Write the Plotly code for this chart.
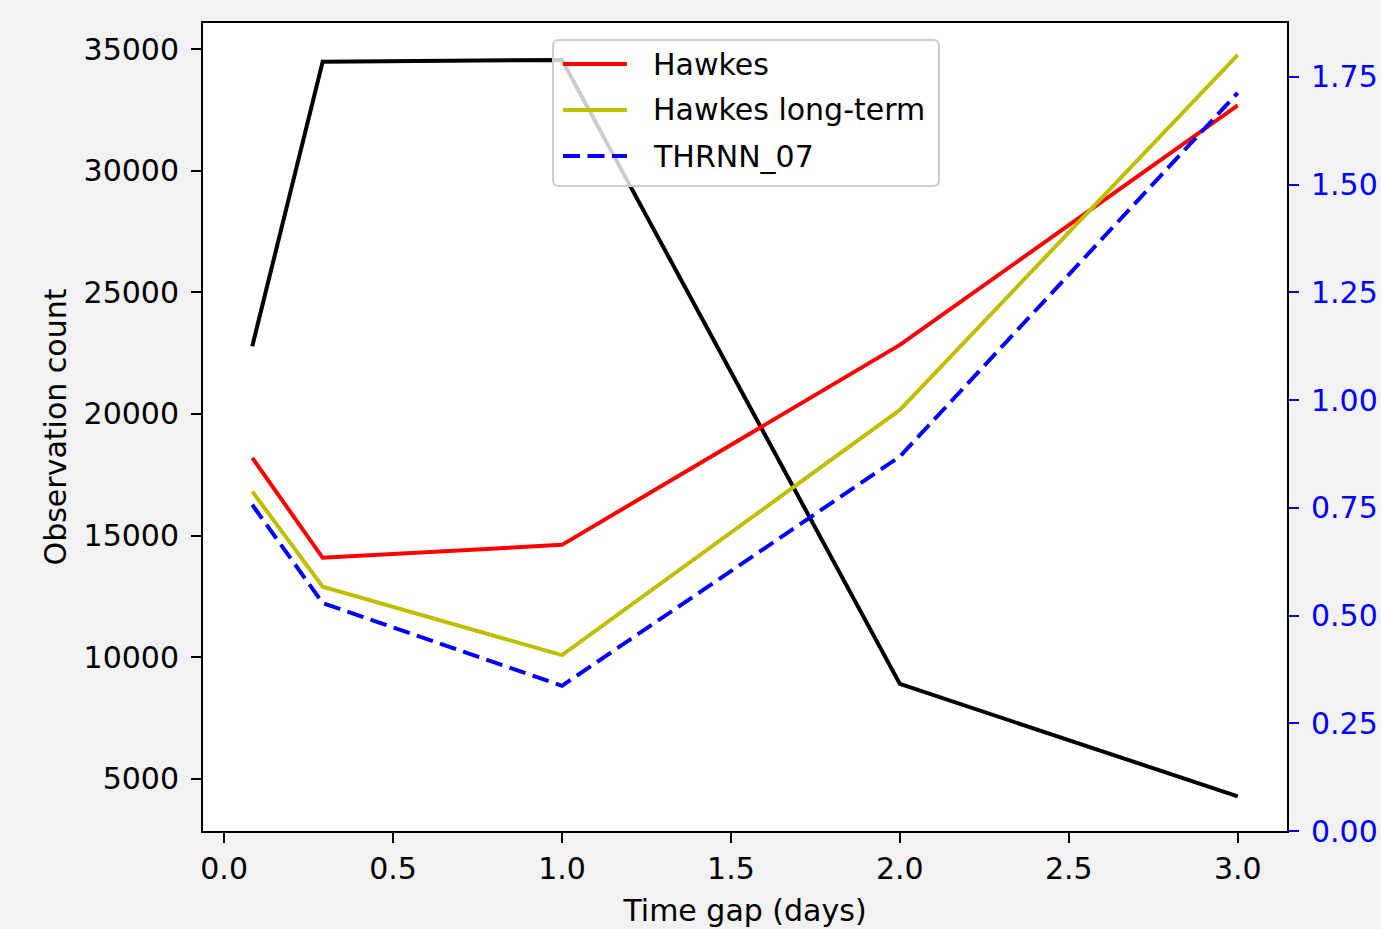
import plotly.graph_objects as go

# ---------------- data ----------------
time_gap_days = [1/12, 7/24, 1.0, 2.0, 3.0]
observation_count = [22790, 34490, 34560, 8900, 4272]

series_names = ["Hawkes", "Hawkes long-term", "THRNN_07"]
hawkes = [0.866, 0.634, 0.664, 1.128, 1.684]
hawkes_long_term = [0.788, 0.567, 0.408, 0.977, 1.801]
thrnn_07 = [0.757, 0.529, 0.337, 0.869, 1.713]
series_values = [hawkes, hawkes_long_term, thrnn_07]

x_ticks = [0.0, 0.5, 1.0, 1.5, 2.0, 2.5, 3.0]
y_ticks = [5000, 10000, 15000, 20000, 25000, 30000, 35000]
y2_ticks = [0.00, 0.25, 0.50, 0.75, 1.00, 1.25, 1.50, 1.75]

# ---------------- styles ----------------
series_colors = ["#ff0000", "#bfbf00", "#0000ff"]
series_dash = ["solid", "solid", "17px,7.5px"]
LW = 4
FONT = "DejaVu Sans"
FS = 30
BG = "#f2f2f2"

W, H = 1381, 929
L, R, T, B = 203, 94, 23, 98

fig = go.Figure()

fig.add_trace(go.Scatter(
    x=time_gap_days, y=observation_count, mode="lines",
    line=dict(color="black", width=LW), showlegend=False, yaxis="y"))

for name, vals, col, dash in zip(series_names, series_values, series_colors, series_dash):
    fig.add_trace(go.Scatter(
        x=time_gap_days, y=vals, mode="lines", name=name,
        line=dict(color=col, width=LW, dash=dash), showlegend=False, yaxis="y2"))

axis_common = dict(
    showgrid=False, zeroline=False, ticks="outside", ticklen=10, tickwidth=2,
    showline=True, linewidth=2, linecolor="black", automargin=False,
    tickfont=dict(family=FONT, size=FS, color="black"),
)

fig.update_layout(
    width=W, height=H,
    margin=dict(l=L, r=R, t=T, b=B, pad=0, autoexpand=False),
    paper_bgcolor=BG, plot_bgcolor="white",
    font=dict(family=FONT, size=FS, color="black"),
    showlegend=False,
    xaxis=dict(
        **axis_common, mirror=True, range=[-0.0625, 3.1458],
        tickvals=x_ticks, tickformat=".1f", tickcolor="black",
        ticklabelstandoff=0,
        title=dict(text="Time gap (days)", font=dict(family=FONT, size=FS), standoff=15),
    ),
    yaxis=dict(
        **axis_common, range=[2850, 36080], tickvals=y_ticks,
        tickformat="d", tickcolor="black", ticklabelstandoff=6,
        title=dict(text="Observation count", font=dict(family=FONT, size=FS), standoff=8),
    ),
    yaxis2=dict(
        showgrid=False, zeroline=False, ticks="outside", ticklen=10, tickwidth=2,
        tickcolor="#0000ff", showline=True, linewidth=2, linecolor="black",
        automargin=False,
        overlaying="y", side="right", anchor="x", range=[0, 1.875],
        tickvals=y2_ticks, tickformat=".2f", ticklabelstandoff=6,
        tickfont=dict(family=FONT, size=FS, color="#0000ff"),
    ),
)

# ---------------- manual matplotlib-style legend ----------------
pw, ph = W - L - R, H - T - B
def px(xp):
    return (xp - L) / pw
def py(yp):
    return (H - B - yp) / ph

x0, x1, y0, y1 = px(553), px(939), py(186), py(40)
rx, ry = 6 / pw, 6 / ph
path = (f"M {x0+rx},{y0} L {x1-rx},{y0} Q {x1},{y0} {x1},{y0+ry} "
        f"L {x1},{y1-ry} Q {x1},{y1} {x1-rx},{y1} L {x0+rx},{y1} "
        f"Q {x0},{y1} {x0},{y1-ry} L {x0},{y0+ry} Q {x0},{y0} {x0+rx},{y0} Z")
fig.add_shape(type="path", path=path, xref="paper", yref="paper",
              fillcolor="rgba(255,255,255,0.8)", line=dict(color="#cccccc", width=2),
              layer="above")

row_y = [64, 110, 156]
for name, col, dash, ry_ in zip(series_names, series_colors, series_dash, row_y):
    fig.add_shape(type="line", xref="paper", yref="paper",
                  x0=px(563), x1=px(627), y0=py(ry_), y1=py(ry_),
                  line=dict(color=col, width=LW, dash=dash), layer="above")
    fig.add_annotation(text=name, xref="paper", yref="paper", x=px(651), y=py(ry_),
                       xanchor="left", yanchor="middle", showarrow=False,
                       font=dict(family=FONT, size=FS, color="black"))

fig.write_html(
    "out.html",
    config={"displayModeBar": False},
    post_script="document.body.style.margin='0px';document.body.style.overflow='hidden';",
)
